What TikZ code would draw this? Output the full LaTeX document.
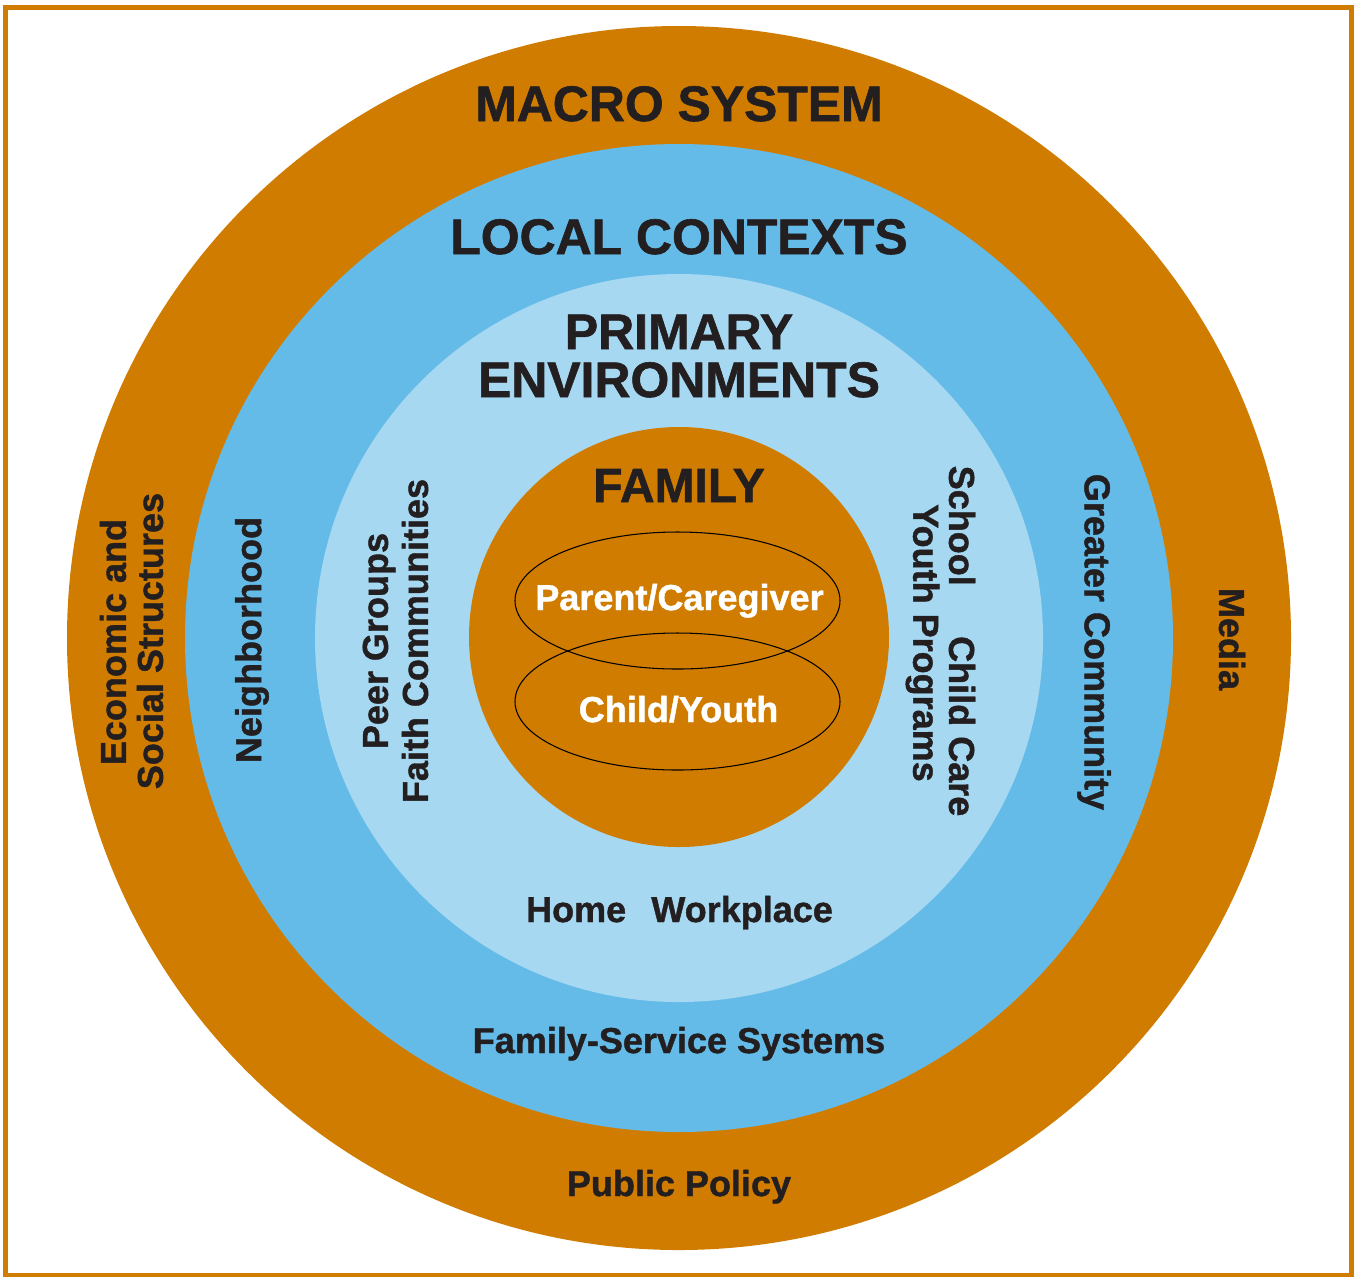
\documentclass[tikz,border=0pt]{standalone}
\usepackage{fontspec}
\setmainfont{Liberation Sans}[BoldFeatures={FakeBold=1.2}]
\usepackage{tikz}
\usetikzlibrary{positioning}

\definecolor{macroorange}{RGB}{208,124,0}
\definecolor{localblue}{RGB}{101,187,232}
\definecolor{primaryblue}{RGB}{166,216,241}
\definecolor{labeltext}{RGB}{35,31,32}

\tikzset{
  ring title/.style={font=\bfseries\fontsize{28.4}{27.3}\selectfont, text=labeltext, inner sep=0pt, align=center},
  ring label/.style={font=\bfseries\fontsize{20.5}{24}\selectfont, text=labeltext, inner sep=0pt},
  member/.style={draw=black, line width=0.6pt},
}

\begin{document}
\begin{tikzpicture}[x=0.02cm,y=-0.02cm]
\useasboundingbox (0,0) rectangle (1354,1276);

% Draw frame
\draw[macroorange, line width=2.85pt] (5.5,7) rectangle (1351.5,1275);

% Draw rings
\fill[macroorange] (679,638) circle (612);
\fill[localblue] (679,638) circle (494);
\fill[primaryblue] (679,638) circle (364);
\fill[macroorange] (679,637) circle (210);

% Draw family members
\draw[member] (677.5,600.5) ellipse [x radius=162.5, y radius=68.5];
\draw[member] (677.5,701.5) ellipse [x radius=162.5, y radius=68.5];

% Ring titles
\node[ring title, anchor=base] (macro) at (679,121) {MACRO SYSTEM};
\node[ring title, anchor=base] (local) at (679,254) {LOCAL CONTEXTS};
\node[ring title, anchor=base] (primary) at (679,349) {PRIMARY};
\node[ring title, anchor=base] (environments) at (679,397) {ENVIRONMENTS};
\node[ring title, font=\bfseries\fontsize{27.3}{27.3}\selectfont, anchor=base] (family) at (679,502) {FAMILY};

% Family members
\node[ring label, text=white, anchor=base] (parent) at (679.5,610) {Parent/Caregiver};
\node[ring label, text=white, anchor=base] (child) at (678.5,722) {Child/Youth};

% Primary environments
\node[ring label, anchor=base] (home) at (679.5,922) {Home\hspace{0.7em}Workplace};
\node[ring label, rotate=90] (peer) at (379,641) {Peer Groups};
\node[ring label, rotate=90] (faith) at (415,641) {Faith Communities};
\node[ring label, rotate=-90] (school) at (962,641) {School\hspace{1.4em}Child Care};
\node[ring label, rotate=-90] (youth) at (922.5,643) {Youth Programs};

% Local contexts
\node[ring label, anchor=base] (services) at (679,1053) {Family-Service Systems};
\node[ring label, rotate=90] (neighborhood) at (252,640) {Neighborhood};
\node[ring label, rotate=-90] (community) at (1094,642) {Greater Community};

% Macro system
\node[ring label, anchor=base] (policy) at (679,1196) {Public Policy};
\node[ring label, rotate=90] (economic) at (113,642) {Economic and};
\node[ring label, rotate=90] (social) at (150,641) {Social Structures};
\node[ring label, rotate=-90] (media) at (1232,639) {Media};
\end{tikzpicture}
\end{document}
